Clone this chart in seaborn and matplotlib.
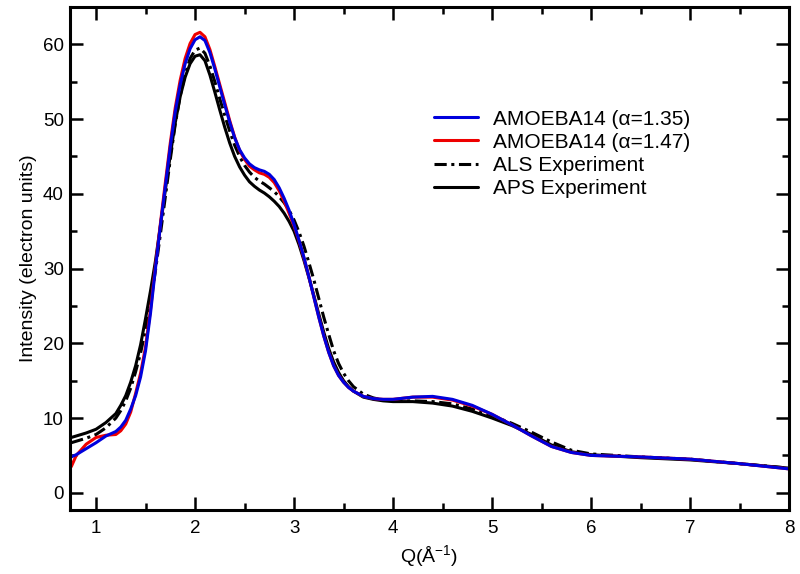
import numpy as np
import pandas as pd
import matplotlib
matplotlib.use("Agg")
import matplotlib.pyplot as plt
import seaborn as sns
from matplotlib.ticker import MultipleLocator

q = [0.75, 0.8, 0.9, 1.0, 1.1, 1.2, 1.25, 1.3,
     1.35, 1.4, 1.45, 1.5, 1.55, 1.6, 1.65, 1.7, 1.75, 1.8,
     1.85, 1.9, 1.95, 2.0, 2.05, 2.1, 2.15, 2.2, 2.25, 2.3,
     2.35, 2.4, 2.45, 2.5, 2.55, 2.6, 2.65, 2.7, 2.75, 2.8,
     2.85, 2.9, 2.95, 3.0, 3.05, 3.1, 3.15, 3.2, 3.25, 3.3,
     3.35, 3.4, 3.45, 3.5, 3.55, 3.6,
     3.7, 3.8, 3.9, 4.0, 4.2, 4.4, 4.6, 4.8, 5.0, 5.2, 5.4, 5.6, 5.8, 6.0,
     6.5, 7.0, 7.5, 8.0]

amoeba_135 = [4.8, 5.1, 5.9, 6.7, 7.6, 8.2, 8.8, 9.7,
              11.2, 13.0, 15.5, 19.0, 24.0, 30.0, 35.7, 41.0, 46.3, 51.0,
              54.6, 57.4, 59.4, 60.6, 61.0, 60.5, 58.9, 56.7, 54.3, 51.9,
              49.6, 47.5, 45.9, 44.8, 44.0, 43.5, 43.2, 43.0, 42.6, 41.9,
              40.8, 39.4, 37.8, 35.9, 33.8, 31.5, 28.9, 26.2, 23.5, 21.0,
              18.8, 17.0, 15.7, 14.8, 14.1, 13.6,
              12.9, 12.6, 12.5, 12.5, 12.8, 12.9, 12.5, 11.7, 10.5, 9.1, 7.6, 6.2, 5.4, 5.0,
              4.8, 4.5, 3.9, 3.2]

amoeba_147 = [3.5, 5.0, 6.5, 7.4, 7.7, 7.8, 8.3, 9.2,
              10.8, 13.3, 16.0, 19.5, 24.5, 30.3, 36.0, 41.5, 46.8, 51.5,
              55.2, 58.1, 60.1, 61.3, 61.6, 61.0, 59.3, 57.0, 54.6, 52.2,
              49.8, 47.6, 45.8, 44.6, 43.7, 43.2, 42.8, 42.6, 42.2, 41.5,
              40.4, 39.0, 37.4, 35.7, 33.7, 31.4, 28.9, 26.2, 23.5, 21.0,
              18.8, 17.0, 15.7, 14.8, 14.1, 13.6,
              12.9, 12.6, 12.5, 12.5, 12.8, 12.8, 12.4, 11.6, 10.5, 9.1, 7.6, 6.2, 5.4, 5.0,
              4.8, 4.5, 3.9, 3.2]

als_exp = [6.7, 6.9, 7.3, 7.8, 8.7, 10.0, 11.0, 12.3,
           14.0, 16.2, 18.7, 21.8, 25.5, 29.7, 34.6, 39.6, 44.6, 49.3,
           53.1, 56.0, 58.1, 59.2, 59.5, 58.8, 57.1, 55.0, 52.7, 50.5,
           48.4, 46.5, 45.0, 43.8, 42.9, 42.2, 41.7, 41.3, 40.8, 40.3,
           39.6, 38.8, 37.8, 36.5, 34.9, 33.0, 30.8, 28.5, 26.0, 23.5,
           21.2, 19.0, 17.3, 16.0, 15.0, 14.2,
           13.2, 12.7, 12.4, 12.3, 12.3, 12.2, 11.9, 11.2, 10.3, 9.3, 8.1, 6.8, 5.7, 5.2,
           4.8, 4.5, 3.9, 3.3]

aps_exp = [7.4, 7.6, 8.0, 8.5, 9.4, 10.6, 11.7, 13.0,
           14.8, 17.0, 19.8, 23.3, 27.0, 31.0, 35.7, 40.5, 45.2, 49.5,
           53.0, 55.6, 57.4, 58.4, 58.6, 57.8, 55.9, 53.6, 51.2, 48.9,
           46.8, 45.0, 43.6, 42.5, 41.6, 41.0, 40.5, 40.1, 39.6, 39.0,
           38.3, 37.4, 36.3, 35.0, 33.2, 31.1, 28.8, 26.4, 23.9, 21.5,
           19.3, 17.5, 16.1, 15.0, 14.2, 13.6,
           12.8, 12.5, 12.3, 12.2, 12.2, 12.0, 11.6, 10.9, 10.0, 9.0, 7.8, 6.4, 5.5, 5.1,
           4.7, 4.4, 3.9, 3.3]

sns.set_style("ticks")
plt.rcParams['font.family'] = ['Liberation Sans', 'DejaVu Sans']
plt.rcParams.update({'text.color': 'black', 'axes.labelcolor': 'black',
                     'xtick.color': 'black', 'ytick.color': 'black',
                     'axes.edgecolor': 'black'})

df = pd.DataFrame({'Q': q, 'AMOEBA14 (α=1.35)': amoeba_135, 'AMOEBA14 (α=1.47)': amoeba_147,
                   'ALS Experiment': als_exp, 'APS Experiment': aps_exp})

fig = plt.figure(figsize=(8, 5.74), dpi=100)
ax = fig.add_axes([0.0875, 0.1115, 0.8988, 0.8765])

# experiments first so the simulations sit on top
sns.lineplot(data=df, x='Q', y='APS Experiment', ax=ax, color='black', lw=2.2,
             label='APS Experiment')
sns.lineplot(data=df, x='Q', y='ALS Experiment', ax=ax, color='black', lw=2.2,
             label='ALS Experiment', linestyle=(0, (4, 1.5, 1, 1.5)))
sns.lineplot(data=df, x='Q', y='AMOEBA14 (α=1.47)', ax=ax, color='#ee0000', lw=2.2,
             label='AMOEBA14 (α=1.47)')
sns.lineplot(data=df, x='Q', y='AMOEBA14 (α=1.35)', ax=ax, color='#0000dd', lw=2.2,
             label='AMOEBA14 (α=1.35)')

ax.set_xlim(0.737, 8)
ax.set_ylim(-2.3, 65)
ax.xaxis.set_major_locator(MultipleLocator(1))
ax.xaxis.set_minor_locator(MultipleLocator(0.5))
ax.yaxis.set_major_locator(MultipleLocator(10))
ax.yaxis.set_minor_locator(MultipleLocator(5))
ax.tick_params(which='both', direction='in', top=True, right=True, width=1.8,
               labelsize=13.5)
ax.tick_params(axis='x', which='major', pad=7)
ax.tick_params(axis='y', which='major', pad=4.5)
ax.tick_params(which='major', length=9.5)
ax.tick_params(which='minor', length=5)
for sp in ax.spines.values():
    sp.set_linewidth(2.2)

ax.set_xlabel('Q(Å$^{\\mathregular{-1}}$)', fontsize=14, labelpad=5)
ax.set_ylabel('Intensity (electron units)', fontsize=14)

handles, labels = ax.get_legend_handles_labels()
order = [3, 2, 1, 0]
ax.legend([handles[i] for i in order], [labels[i] for i in order], frameon=False,
          fontsize=15, loc='center left', bbox_to_anchor=(0.48, 0.708),
          handlelength=2.1, handletextpad=0.75, labelspacing=0.2)

fig.savefig('out.png', dpi=100)
